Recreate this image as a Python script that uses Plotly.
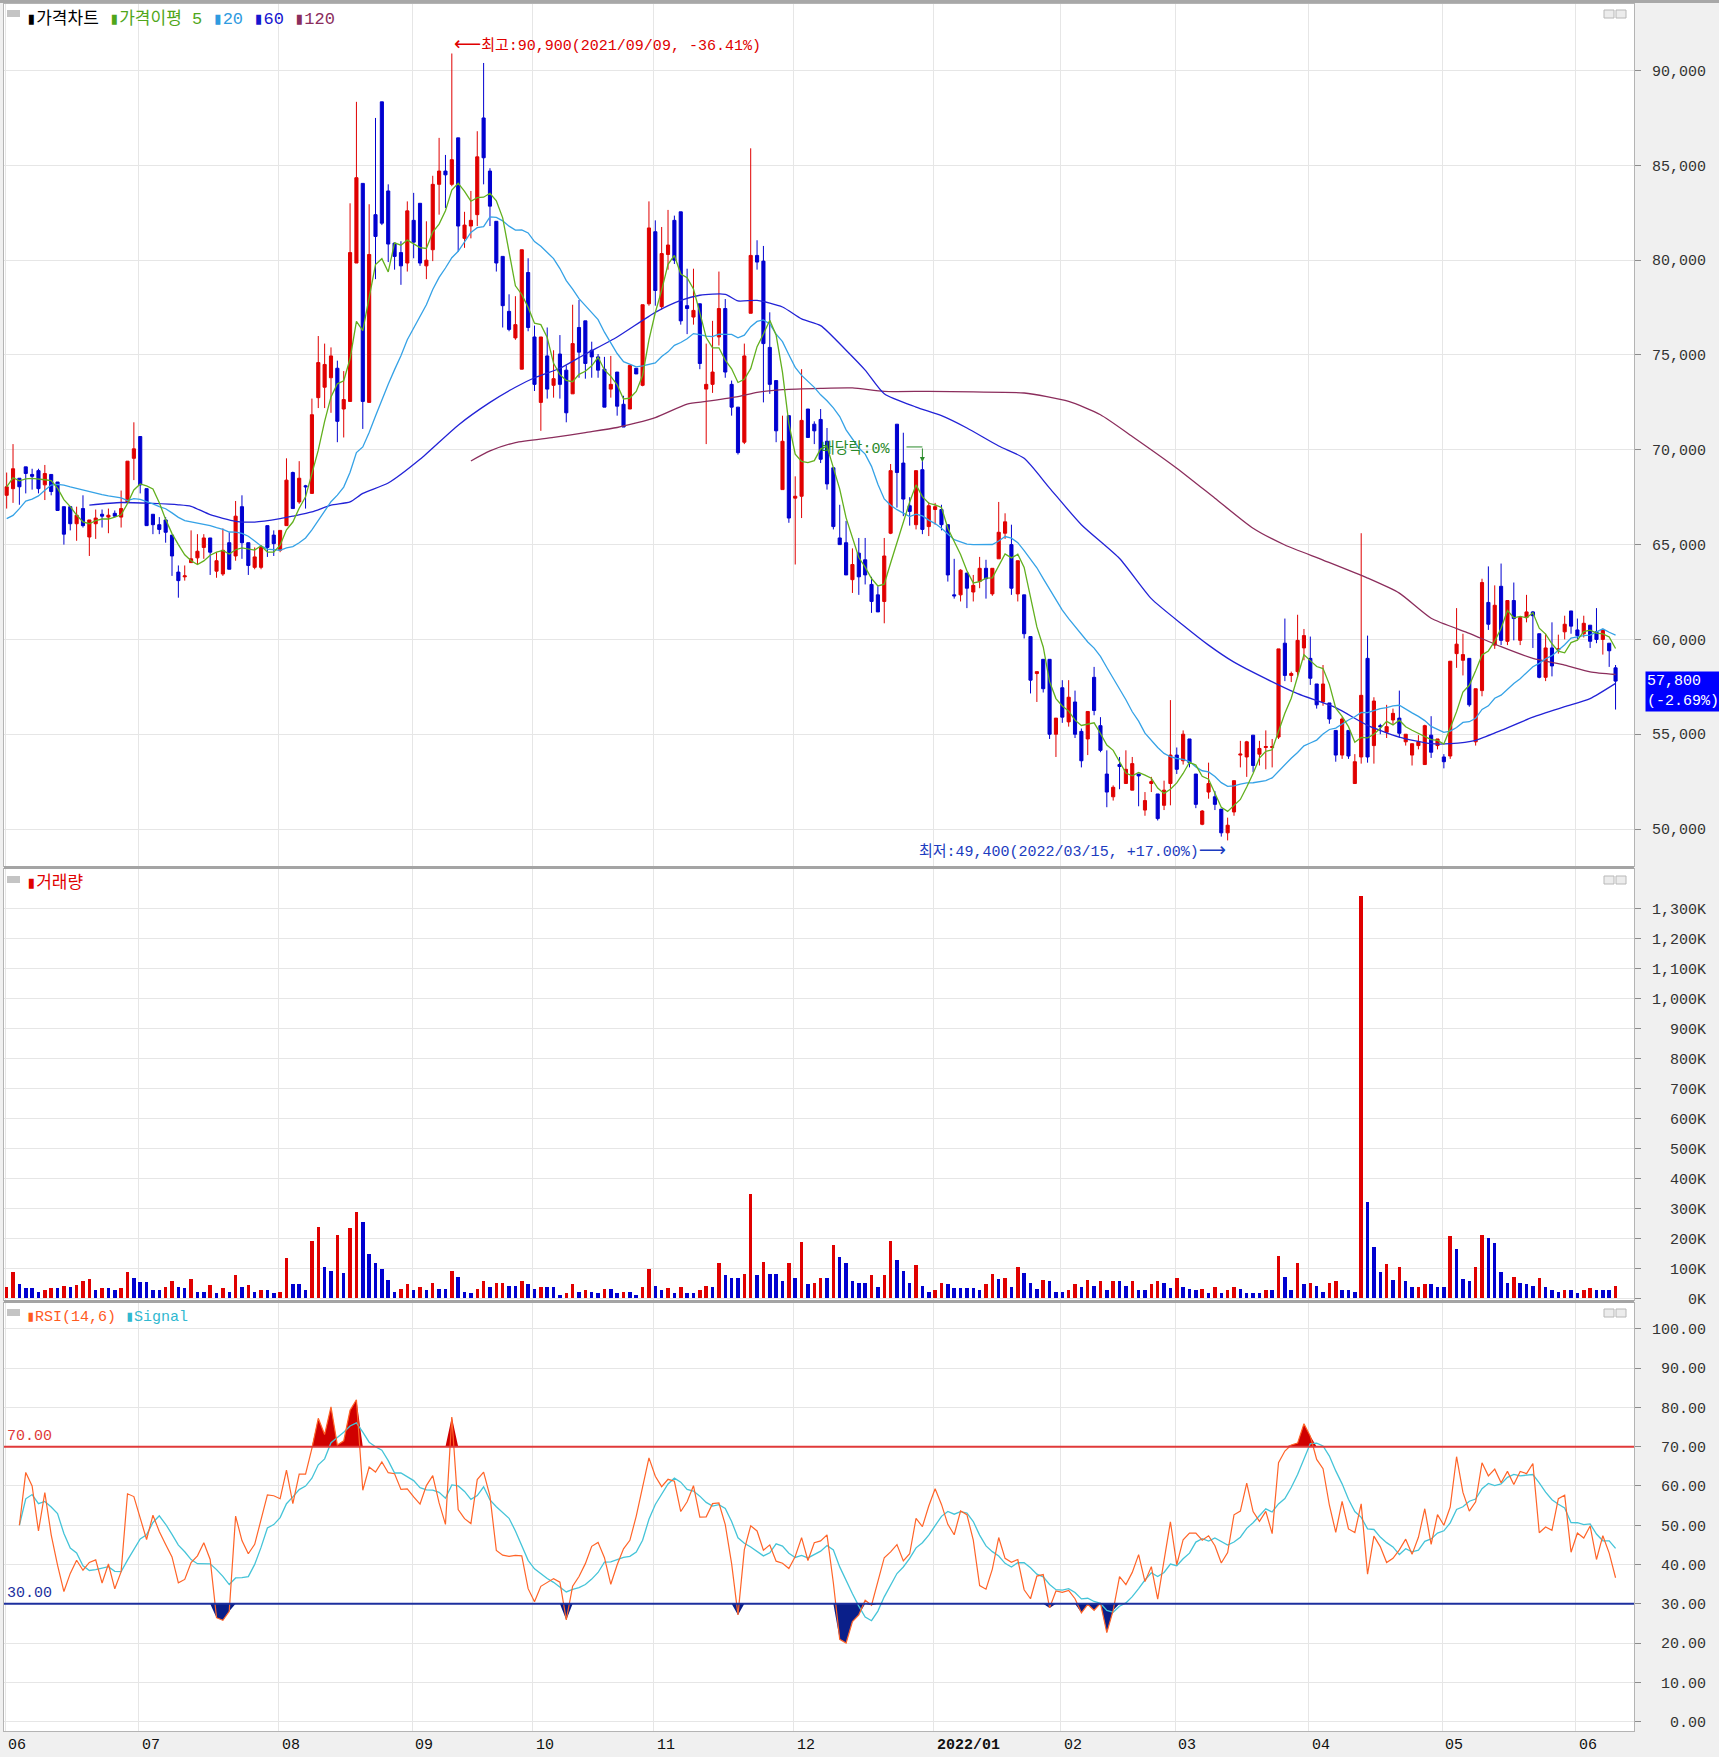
import numpy as np
import pandas as pd
import plotly.graph_objects as go

# ---------------- data ----------------
month_labels = ["06", "07", "08", "09", "10", "11", "12", "2022/01", "02", "03", "04", "05", "06"]
month_start = [0, 21, 43, 64, 83, 102, 124, 146, 166, 184, 205, 226, 247]

open_ = [
    67600, 67950, 68500, 69100, 68700, 68900, 68150, 68700, 68300, 67000, 67000, 66100, 66900, 65400, 66100, 66600, 66450, 66650, 66450, 67250, 69550,
    70700, 67950, 66600, 66050, 66300, 65500, 63550, 63300, 64050, 64300, 64850, 65350, 63600, 63450, 65100, 64400, 67000, 65100, 63800, 63800, 66000, 65500,
    64700, 66000, 68800, 67250, 68100, 67700, 72750, 73300, 73800, 74300, 72150, 72550, 79850, 84050, 72500, 82400, 88350, 83650, 80900, 80400, 79850,
    82100, 83000, 79700, 80550, 84000, 84700, 84000, 86450, 81150, 81800, 82400, 87500, 84700, 82050, 80200, 77300, 75900, 74250, 79350,
    75950, 72500, 74950, 73400, 75050, 74200, 72950, 76450, 76800, 75250, 74900, 74250, 73200, 74100, 72400, 72150, 74300, 73400, 77700,
    81500, 77550, 80300, 82100, 82550, 77600, 77000, 77700, 73200, 73450, 75950, 77450, 73450, 72250, 70400, 77200, 80250, 79950, 75400, 73650, 67900, 71800,
    67450, 67550, 72150, 71350, 71600, 70450, 69050, 65350, 65100, 63150, 64550, 64200, 62900, 62350, 62000, 65600, 71350, 69300, 67050, 66050, 68950, 65950,
    66850, 66850, 66050, 62350, 62350, 63500, 62500, 63050, 63750, 62400, 64250, 65600, 65000, 62400, 62350, 60150, 58200, 58950, 58950, 55000,
    57450, 55650, 56700, 55150, 54750, 58000, 55450, 52900, 51700, 53400, 52400, 52050, 52900, 51000, 52400, 51850, 51250, 52400,
    53900, 53600, 54750, 52900, 50250, 51950, 51700, 51050, 49800, 50900, 53900, 53800, 54950, 53950, 54300, 54300, 54850, 59800, 58100, 58300, 59550,
    59000, 57650, 56700, 56650, 55200, 53900, 55200, 52400, 53800, 59000, 54400, 55450, 55100, 55750, 55850, 54600, 53900, 54400, 53400, 54950, 54400,
    53800, 53850, 59250, 58900, 59000, 54600, 57300, 61950, 59700, 62800, 59900, 62050, 59950, 61150, 61450, 60300, 58000, 59550, 59450, 60400, 61500,
    60500, 60300, 60750, 60400, 60000, 59800, 58500,
]
high = [
    68800, 70300, 68500, 69100, 69000, 69000, 69200, 68700, 68300, 67000, 67000, 67000, 67600, 66300, 66850, 66850, 66900, 66800, 67850, 69400, 71450,
    70700, 67950, 66600, 66450, 66450, 65500, 63900, 63900, 65750, 65550, 65550, 65350, 64600, 65850, 65650, 67300, 67600, 65100, 64850, 64950, 66000, 65750,
    65750, 69550, 68850, 69400, 68150, 72700, 76000, 75600, 75400, 74700, 74150, 83000, 88350, 84050, 82950, 87500, 88350, 84000, 80900, 81000, 83100,
    83550, 83000, 82050, 84450, 86450, 85550, 90900, 86450, 82550, 83650, 86800, 90400, 84850, 82050, 80200, 78200, 78100, 80550, 80100,
    76550, 75950, 76450, 75250, 76050, 74450, 77650, 77900, 76800, 75700, 75050, 74900, 74950, 74100, 72850, 74450, 74300, 77650, 83100,
    82100, 81750, 82650, 82350, 82550, 79550, 79550, 77700, 75600, 76800, 79400, 77950, 73650, 72250, 75600, 85900, 81050, 80750, 77250, 73650, 71800, 71800,
    68600, 74250, 72150, 71500, 72150, 71150, 69050, 67100, 66250, 64800, 65350, 65350, 63300, 62800, 65350, 69250, 71350, 70900, 67500, 68900, 69400, 67250,
    67200, 67100, 66050, 64250, 63700, 63500, 63400, 64350, 64200, 63750, 67250, 66650, 66050, 64150, 62350, 60150, 58300, 58950, 58950, 55850,
    57850, 57850, 57300, 55300, 56200, 58550, 55900, 54150, 52300, 53800, 54150, 53800, 52900, 51950, 52750, 51850, 52550, 56800,
    54300, 55200, 54750, 52900, 51000, 53500, 52000, 51050, 50600, 52550, 54650, 54650, 54950, 54650, 55200, 54750, 59500, 61100, 58300, 61300, 60550,
    60150, 57650, 58650, 56650, 55200, 55900, 55200, 53950, 65600, 60200, 56950, 55550, 56550, 56350, 57300, 55000, 54500, 54950, 55500, 55950, 54750,
    53950, 58850, 61650, 60300, 59000, 57400, 63200, 63850, 62850, 64000, 62050, 63000, 61150, 62350, 61500, 60300, 60300, 60900, 60250, 61250, 61500,
    61100, 61250, 60750, 61650, 60500, 59800, 58650,
]
low = [
    66900, 67200, 67100, 67700, 67900, 67700, 67350, 67600, 66800, 65000, 65750, 65200, 65900, 64400, 65300, 65900, 65600, 66450, 65900, 67200, 68400,
    67700, 66000, 65550, 65550, 65100, 63350, 62200, 63100, 64050, 63950, 64250, 63400, 63250, 63350, 63700, 64150, 64250, 63400, 63700, 63700, 64350, 64400,
    64600, 66000, 66900, 67150, 66900, 67700, 72200, 72200, 71950, 70400, 70650, 72550, 79850, 71100, 72500, 79000, 81850, 79900, 79500, 78700, 79400,
    80100, 79700, 79000, 79950, 82400, 82750, 83900, 80450, 80650, 81150, 81800, 84000, 81800, 79400, 76450, 76250, 75800, 74250, 76250,
    73100, 71000, 72700, 72750, 72700, 71450, 72950, 73800, 73750, 73800, 73800, 72250, 72750, 71800, 71200, 72150, 74000, 73350, 77600,
    77600, 77400, 79500, 79800, 76600, 76100, 76600, 74250, 70300, 73000, 75500, 73800, 71800, 69750, 70300, 77200, 79500, 72500, 72950, 70400, 67900, 66150,
    63950, 66400, 70650, 70300, 69300, 67900, 65800, 65000, 63400, 62450, 62350, 62900, 61400, 61450, 60850, 65550, 66950, 66500, 66000, 65800, 65550, 65450,
    66050, 65750, 63050, 62150, 62000, 61650, 62000, 62700, 62150, 62300, 64250, 65300, 62350, 62000, 60050, 57150, 56700, 57200, 54750, 53800,
    55600, 55400, 54800, 53250, 53900, 56000, 54050, 51150, 51500, 52100, 52400, 52050, 51200, 50700, 51950, 50450, 51000, 51250,
    52900, 53400, 53250, 51100, 50200, 51600, 51000, 49600, 49400, 50700, 53250, 52750, 53000, 53350, 53150, 53250, 54750, 57800, 57750, 58000, 58900,
    57600, 56350, 56500, 55550, 53550, 53700, 53700, 52400, 53450, 53500, 53450, 55000, 54800, 55500, 54800, 54400, 53350, 54200, 53400, 53750, 54200,
    53200, 53700, 58500, 58100, 56450, 54400, 57000, 60500, 59500, 59700, 59700, 59950, 59700, 60900, 59550, 57950, 57800, 58050, 59250, 60000, 60300,
    60000, 60100, 59550, 59800, 59200, 58550, 56300,
]
close = [
    68050, 69000, 68050, 68750, 68600, 67950, 68750, 67800, 66800, 65550, 66100, 66550, 66000, 66300, 66400, 66500, 66550, 66500, 66900, 69400, 70050,
    68150, 66000, 66050, 65800, 65650, 64400, 63100, 63350, 64250, 64650, 65350, 64600, 64150, 64700, 63700, 66500, 65100, 63900, 64350, 64850, 64850, 65050,
    65750, 68400, 66900, 68500, 68050, 71850, 74600, 74500, 74950, 71500, 72650, 80400, 84350, 72550, 80300, 81250, 81950, 80850, 80200, 79700, 82600,
    80950, 79850, 80000, 84000, 84700, 84500, 85300, 81800, 81850, 82100, 85450, 85400, 82850, 79850, 77600, 76350, 76600, 80550, 76450,
    73450, 75950, 73200, 73750, 73450, 71950, 75600, 75150, 74550, 74900, 74200, 72250, 73450, 72300, 71200, 74450, 74000, 77650, 81700,
    78400, 80350, 80800, 80000, 76800, 77450, 77350, 74550, 73450, 74100, 77450, 74100, 72250, 69850, 74950, 80250, 79900, 75600, 73450, 71000, 70450, 66400,
    67550, 71550, 70650, 71000, 69500, 68200, 65950, 65000, 63400, 63950, 63300, 63400, 62000, 61450, 64400, 68900, 68800, 67400, 66750, 68900, 65800, 67050,
    67000, 66050, 63400, 62300, 63650, 62700, 62850, 63750, 63200, 63750, 65650, 66200, 62700, 64150, 60300, 57850, 58300, 57400, 55000, 55850,
    55900, 56950, 55000, 53600, 56200, 56250, 54150, 51950, 52200, 53300, 53150, 53450, 52800, 51500, 52500, 50550, 52050, 53900,
    53150, 55000, 53500, 51300, 50950, 52400, 51300, 49800, 50200, 52550, 53950, 54600, 53350, 54250, 54350, 54350, 59500, 58100, 58200, 59950, 60200,
    57950, 56550, 57650, 55800, 53900, 55800, 53850, 53550, 57050, 53800, 56750, 55400, 55400, 56100, 55050, 55000, 54500, 54600, 55450, 54050, 54750,
    53550, 58850, 59750, 59200, 56550, 57400, 63000, 60800, 61800, 59950, 62050, 61100, 61150, 61450, 61250, 58000, 59550, 58600, 59500, 60800, 60700,
    60200, 60850, 59900, 60000, 60500, 59400, 57800,
]
volume_k = [
    39, 87, 47, 33, 33, 22, 28, 33, 33, 42, 39, 44, 59, 63, 28, 33, 33, 28, 33, 87,
    69, 53, 53, 28, 28, 39, 59, 39, 33, 63, 22, 22, 44, 17, 33, 22, 78, 39, 44, 22,
    28, 28, 17, 22, 133, 47, 47, 28, 192, 237, 103, 92, 211, 83, 233, 287, 253, 148, 117, 97,
    61, 22, 30, 47, 28, 37, 28, 50, 31, 31, 92, 72, 22, 17, 30, 56, 36, 50, 52, 42,
    42, 56, 47, 31, 37, 37, 37, 11, 17, 47, 22, 28, 22, 17, 31, 31, 17, 22, 22, 11,
    39, 98, 42, 28, 33, 17, 39, 17, 17, 28, 42, 39, 117, 78, 69, 69, 81, 348, 78, 122,
    81, 80, 56, 117, 67, 187, 48, 52, 67, 67, 178, 137, 117, 56, 52, 50, 78, 37, 78, 192,
    128, 92, 52, 111, 42, 22, 28, 52, 47, 33, 33, 33, 33, 26, 47, 81, 63, 67, 37, 103,
    83, 50, 30, 61, 56, 22, 22, 28, 48, 37, 61, 42, 56, 28, 56, 56, 42, 56, 28, 28,
    48, 56, 52, 33, 67, 39, 30, 28, 30, 17, 39, 17, 26, 39, 30, 17, 17, 17, 28, 28,
    141, 72, 28, 117, 47, 52, 42, 22, 52, 59, 28, 26, 22, 1342, 322, 172, 87, 113, 61, 103,
    56, 37, 39, 48, 48, 37, 37, 208, 163, 63, 59, 103, 211, 202, 183, 87, 52, 72, 52, 47,
    42, 67, 39, 26, 22, 28, 28, 17, 28, 33, 28, 28, 28, 42,
]
# MA20 values of the first 19 sessions (their window reaches back before the visible range)
ma20_head = [66370, 66540, 66900, 67290, 67400, 67570, 67870, 68140, 68180, 68140,
             68050, 67960, 67870, 67780, 67700, 67640, 67570, 67520, 67460]
# MA60 / MA120 (session number, value)
ma60_session = [14, 19, 24, 28, 30, 33, 37, 40, 44, 46, 49, 52, 55, 57, 61, 66, 72, 77, 81, 84,
                88, 92, 97, 103, 107, 110, 114, 116, 119, 123, 126, 129, 133, 136, 139, 144, 148, 152, 157, 161,
                165, 170, 176, 181, 186, 190, 194, 199, 204, 210, 215, 220, 225, 228, 232, 236, 241, 246, 250, 254]
ma60_value = [67080, 67220, 67170, 67100, 67020, 66580, 66230, 66190, 66370, 66500, 66720, 67080, 67250, 67700, 68250, 69500, 71300, 72500, 73300, 73800,
              74300, 75050, 75950, 77250, 77880, 78150, 78200, 77850, 77880, 77530, 76900, 76550, 75250, 74200, 72950, 72250, 71800, 71150, 70200, 69550,
              67980, 66050, 64270, 62150, 60750, 59700, 58800, 57930, 57140, 56400, 55470, 54850, 54500, 54500, 54680, 55200, 55900, 56450, 56880, 57680]
ma120_session = [74, 77, 81, 87, 92, 97, 103, 108, 111, 116, 119, 123, 129, 134, 139, 146, 153, 161, 168, 173,
                 178, 185, 191, 197, 202, 208, 215, 220, 225, 231, 236, 241, 246, 250, 254]
ma120_value = [69410, 69940, 70380, 70650, 70910, 71175, 71700, 72410, 72550, 72800, 73030, 73170, 73240, 73260, 73080, 73080, 73050, 72995, 72555, 71850,
               70705, 69030, 67445, 65860, 64980, 64185, 63235, 62440, 61117, 60323, 59617, 59000, 58646, 58290, 58150]

price_ticks = [50000, 55000, 60000, 65000, 70000, 75000, 80000, 85000, 90000]
vol_ticks_k = list(range(0, 1400, 100))
rsi_ticks = list(range(0, 110, 10))

# ---------------- derived series ----------------
N = len(close)
x = np.arange(N)
o = np.array(open_, float); c = np.array(close, float)
h = np.maximum(np.array(high, float), np.maximum(o, c))
l = np.minimum(np.array(low, float), np.minimum(o, c))
cs = pd.Series(c)
ma5 = cs.rolling(5, min_periods=1).mean()
ma20 = cs.rolling(20).mean()
ma20.iloc[:19] = ma20_head
d = cs.diff()
up = d.clip(lower=0).rolling(14, min_periods=2).sum()
tot = d.abs().rolling(14, min_periods=2).sum()
rsi = 100 * up / tot
sig = rsi.rolling(6, min_periods=1).mean()
rsi_v = rsi.to_numpy()

vol = np.array(volume_k, float) * 1000
vol_col = ["#e00000" if (i == 0 or vol[i] > vol[i - 1]) else "#0000d0" for i in range(N)]

RED, BLUE = "#e00000", "#0000d0"

# ---------------- geometry helpers ----------------
W, H = 1719, 1757
ML, MR, MT, MB = 4, 85, 4, 24
PW, PH = W - ML - MR, H - MT - MB
def px(xf): return (xf - ML) / PW
def py(yf): return (H - MB - yf) / PH

MONO = "Liberation Mono, Noto Sans CJK KR, monospace"
ARROW = "font-family:DejaVu Sans;font-size:19px"

fig = go.Figure()

# price panel
fig.add_trace(go.Candlestick(
    x=x, open=o, high=h, low=l, close=c, xaxis="x", yaxis="y",
    increasing=dict(line=dict(color=RED, width=1), fillcolor=RED),
    decreasing=dict(line=dict(color=BLUE, width=1), fillcolor=BLUE),
    whiskerwidth=0, hoverinfo="skip", showlegend=False))
fig.add_trace(go.Scatter(x=[s - 1 for s in ma120_session], y=ma120_value, mode="lines",
                         line=dict(color="#8b2d5c", width=1.3, shape="spline", smoothing=0.6),
                         xaxis="x", yaxis="y", hoverinfo="skip", showlegend=False))
fig.add_trace(go.Scatter(x=[s - 1 for s in ma60_session], y=ma60_value, mode="lines",
                         line=dict(color="#2222d6", width=1.3, shape="spline", smoothing=0.6),
                         xaxis="x", yaxis="y", hoverinfo="skip", showlegend=False))
fig.add_trace(go.Scatter(x=x, y=ma20, mode="lines", line=dict(color="#35a2e6", width=1.3),
                         xaxis="x", yaxis="y", hoverinfo="skip", showlegend=False))
fig.add_trace(go.Scatter(x=x, y=ma5, mode="lines", line=dict(color="#62b01e", width=1.3),
                         xaxis="x", yaxis="y", hoverinfo="skip", showlegend=False))

# volume panel
fig.add_trace(go.Bar(x=x, y=vol, marker=dict(color=vol_col, line=dict(width=0)), width=0.55,
                     xaxis="x2", yaxis="y2", hoverinfo="skip", showlegend=False))

# RSI panel
base70 = np.full(N, 70.0)
top70 = np.where(np.isnan(rsi_v), 70.0, np.maximum(rsi_v, 70.0))
base30 = np.full(N, 30.0)
bot30 = np.where(np.isnan(rsi_v), 30.0, np.minimum(rsi_v, 30.0))
fig.add_trace(go.Scatter(x=x, y=base70, mode="lines", line=dict(width=0), xaxis="x3", yaxis="y3",
                         hoverinfo="skip", showlegend=False))
fig.add_trace(go.Scatter(x=x, y=top70, mode="lines", line=dict(width=0), fill="tonexty",
                         fillcolor="#d00000", xaxis="x3", yaxis="y3", hoverinfo="skip", showlegend=False))
fig.add_trace(go.Scatter(x=x, y=base30, mode="lines", line=dict(width=0), xaxis="x3", yaxis="y3",
                         hoverinfo="skip", showlegend=False))
fig.add_trace(go.Scatter(x=x, y=bot30, mode="lines", line=dict(width=0), fill="tonexty",
                         fillcolor="#0a1f8a", xaxis="x3", yaxis="y3", hoverinfo="skip", showlegend=False))
fig.add_trace(go.Scatter(x=x, y=sig, mode="lines", line=dict(color="#45c4d8", width=1.3),
                         xaxis="x3", yaxis="y3", hoverinfo="skip", showlegend=False))
fig.add_trace(go.Scatter(x=x, y=rsi, mode="lines", line=dict(color="#ff6428", width=1.2),
                         xaxis="x3", yaxis="y3", hoverinfo="skip", showlegend=False))

grid_x = [m - 0.25 for m in month_start]
xcommon = dict(range=[-0.42, 255.9], tickvals=grid_x, showticklabels=False, ticks="",
               showgrid=True, gridcolor="#e6e6e6", zeroline=False,
               showline=True, mirror=True, linecolor="#b4b4b4")
ycommon = dict(side="right", ticks="outside", ticklen=6, tickcolor="#8c8c8c",
               showgrid=True, gridcolor="#e6e6e6", zeroline=False,
               showline=True, mirror=True, linecolor="#b4b4b4",
               tickfont=dict(family=MONO, size=15, color="#333333"), ticklabelstandoff=8)

fig.update_layout(
    width=W, height=H, margin=dict(l=ML, r=MR, t=MT, b=MB),
    paper_bgcolor="#f0f0f0", plot_bgcolor="#ffffff",
    font=dict(family=MONO, size=15, color="#222222"),
    showlegend=False, hovermode=False, bargap=0,
    xaxis=dict(**xcommon, anchor="y", rangeslider=dict(visible=False)),
    xaxis2=dict(**xcommon, anchor="y2", matches="x"),
    xaxis3=dict(**xcommon, anchor="y3", matches="x"),
    yaxis=dict(**ycommon, domain=[py(866), py(4)], range=[48050, 93510], anchor="x",
               tickvals=price_ticks, ticktext=[f"{v:,}" for v in price_ticks]),
    yaxis2=dict(**ycommon, domain=[py(1300), py(869)], range=[-5700, 1431000], anchor="x2",
                tickvals=[v * 1000 for v in vol_ticks_k],
                ticktext=[f"{v:,}K".rjust(6, "\u00a0") for v in vol_ticks_k]),
    yaxis3=dict(**ycommon, domain=[py(1731), py(1303)], range=[-2.4, 106.6], anchor="x3",
                tickvals=rsi_ticks, ticktext=[f"{v:.2f}".rjust(6, "\u00a0") for v in rsi_ticks]),
)

shapes = []
# top border and panel separators
shapes.append(dict(type="rect", xref="paper", yref="paper", x0=px(0), x1=px(W), y0=py(3), y1=py(0),
                   fillcolor="#a8a8a8", line=dict(width=0), layer="above"))
for y0, y1 in [(866, 869), (1300, 1303)]:
    shapes.append(dict(type="rect", xref="paper", yref="paper", x0=0, x1=1, y0=py(y1), y1=py(y0),
                       fillcolor="#a4a4a4", line=dict(width=0), layer="above"))
# panel icons
for yt in [10, 876, 1309]:
    shapes.append(dict(type="rect", xref="paper", yref="paper", x0=px(7), x1=px(20), y0=py(yt + 7), y1=py(yt),
                       fillcolor="#c4c4c4", line=dict(width=0)))
    for xl in [1604, 1616]:
        shapes.append(dict(type="rect", xref="paper", yref="paper", x0=px(xl), x1=px(xl + 10),
                           y0=py(yt + 8), y1=py(yt), fillcolor="#ececec", line=dict(color="#b8b8b8", width=1)))
# RSI reference lines
shapes.append(dict(type="line", xref="paper", yref="y3", x0=0, x1=1, y0=70, y1=70, line=dict(color="#e03a3a", width=2)))
shapes.append(dict(type="line", xref="paper", yref="y3", x0=0, x1=1, y0=30, y1=30, line=dict(color="#1d2f9e", width=2)))
# ex-dividend bracket
shapes.append(dict(type="line", xref="x", yref="y", x0=141.5, x1=144, y0=70150, y1=70150, line=dict(color="#2a8a2a", width=1)))

annotations = []
annotations.append(dict(
    xref="paper", yref="paper", x=px(24), y=py(19), xanchor="left", yanchor="middle", showarrow=False,
    font=dict(size=17),
    text=('<span style="color:#000000">▮가격차트</span> '
          '<span style="color:#4fa61a">▮가격이평 5</span> '
          '<span style="color:#2f9be0">▮20</span> '
          '<span style="color:#1515d0">▮60</span> '
          '<span style="color:#8b2d5c">▮120</span>')))
annotations.append(dict(xref="paper", yref="paper", x=px(24), y=py(883), xanchor="left", yanchor="middle",
                        showarrow=False, font=dict(size=17, color="#e00000"), text="▮거래량"))
annotations.append(dict(xref="paper", yref="paper", x=px(24), y=py(1317), xanchor="left", yanchor="middle",
                        showarrow=False, font=dict(size=15),
                        text='<span style="color:#ff5a1e">▮RSI(14,6)</span> <span style="color:#30b8d0">▮Signal</span>'))
annotations.append(dict(xref="x", yref="y", x=70, y=91420, xanchor="left", yanchor="middle", showarrow=False,
                        font=dict(size=15, color="#e00000"),
                        text=f'<span style="{ARROW}">⟵</span>최고:90,900(2021/09/09, -36.41%)'))
annotations.append(dict(xref="x", yref="y", x=192, y=48925, xanchor="right", yanchor="middle", showarrow=False,
                        font=dict(size=15, color="#1c3cc0"),
                        text=f'최저:49,400(2022/03/15, +17.00%)<span style="{ARROW}">⟶</span>'))
annotations.append(dict(xref="x", yref="y", x=127.8, y=70030, xanchor="left", yanchor="middle", showarrow=False,
                        font=dict(size=15, color="#2a8a2a"), text="배당락:0%"))
annotations.append(dict(xref="x", yref="y", x=144, y=69350, ax=144, ay=70150, axref="x", ayref="y",
                        showarrow=True, arrowhead=2, arrowsize=1, arrowwidth=1, arrowcolor="#2a8a2a", text=""))
annotations.append(dict(xref="paper", yref="y", x=px(1645), y=close[-1], xanchor="left", yanchor="middle",
                        yshift=-10, showarrow=False, align="left", bgcolor="#0000ff", borderpad=1,
                        font=dict(size=15, color="#ffffff"),
                        text=f"{close[-1]:,}<br>({(close[-1] / close[-2] - 1) * 100:.2f}%)"))
annotations.append(dict(xref="paper", yref="y3", x=px(5), y=70, xanchor="left", yanchor="bottom", showarrow=False,
                        font=dict(size=15, color="#e03a3a"), text="70.00"))
annotations.append(dict(xref="paper", yref="y3", x=px(5), y=30, xanchor="left", yanchor="bottom", showarrow=False,
                        font=dict(size=15, color="#1d2f9e"), text="30.00"))
for lab, m in zip(month_labels, month_start):
    annotations.append(dict(xref="x", yref="paper", x=m - 0.25, y=py(1745), xanchor="left", yanchor="middle",
                            xshift=1, showarrow=False, font=dict(size=15, color="#111111"),
                            text=f"<b>{lab}</b>" if "/" in lab else lab))

fig.update_layout(shapes=shapes, annotations=annotations)

fig.write_html("out.html", config={"displayModeBar": False},
               post_script="document.body.style.margin='0px';document.body.style.overflow='hidden';")
